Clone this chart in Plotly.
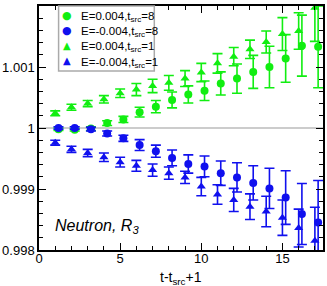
import plotly.graph_objects as go

t = list(range(1, 18))

# E=0.004, t_src=8 (green circles)
gc_val = [0.99998, 0.99997, 0.99999, 1.00008, 1.00014, 1.00026, 1.00035, 1.00046, 1.00055,
          1.00061, 1.00073, 1.00081, 1.00092, 1.00100, 1.00114, 1.00135, 1.00133]
gc_err = [0.00002, 0.00002, 0.00003, 0.00004, 0.00005, 0.00008, 0.00010, 0.00013, 0.00014,
          0.00016, 0.00019, 0.00024, 0.00027, 0.00034, 0.00039, 0.00050, 0.00067]
# E=-0.004, t_src=8 (blue circles)
bc_val = [1.00000, 1.00000, 0.99998, 0.99991, 0.99983, 0.99972, 0.99962, 0.99951, 0.99941,
          0.99937, 0.99926, 0.99919, 0.99910, 0.99901, 0.99886, 0.99859, 0.99845]
bc_err = [0.00002, 0.00002, 0.00003, 0.00004, 0.00005, 0.00009, 0.00010, 0.00013, 0.00015,
          0.00017, 0.00020, 0.00024, 0.00028, 0.00033, 0.00044, 0.00050, 0.00069]
# E=0.004, t_src=1 (green triangles)
gt_val = [1.00024, 1.00034, 1.00040, 1.00047, 1.00057, 1.00063, 1.00069, 1.00074, 1.00081,
          1.00091, 1.00106, 1.00117, 1.00129, 1.00141, 1.00154, 1.00159, 1.00197]
gt_err = [0.00004, 0.00005, 0.00005, 0.00006, 0.00007, 0.00010, 0.00011, 0.00012, 0.00013,
          0.00015, 0.00016, 0.00015, 0.00015, 0.00018, 0.00027, 0.00030, 0.00055]
# E=-0.004, t_src=1 (blue triangles)
bt_val = [0.99976, 0.99965, 0.99959, 0.99952, 0.99944, 0.99938, 0.99931, 0.99926, 0.99919,
          0.99904, 0.99891, 0.99882, 0.99871, 0.99863, 0.99853, 0.99836, 0.99815]
bt_err = [0.00004, 0.00005, 0.00006, 0.00007, 0.00008, 0.00009, 0.00010, 0.00010, 0.00010,
          0.00015, 0.00016, 0.00019, 0.00021, 0.00025, 0.00029, 0.00031, 0.00055]

names = ["E=0.004,t<sub>src</sub>=8", "E=-0.004,t<sub>src</sub>=8",
         "E=0.004,t<sub>src</sub>=1", "E=-0.004,t<sub>src</sub>=1"]
glyphs = ["●", "●", "▲", "▲"]

GREEN = "#11ee11"
BLUE = "#1010ee"
FONT = "Liberation Sans, Arial, sans-serif"

shift = 0.2
tc = [ti + shift for ti in t]

series = [
    (tc, gc_val, gc_err, GREEN, "circle", 8, names[0]),
    (tc, bc_val, bc_err, BLUE, "circle", 8, names[1]),
    (t, gt_val, gt_err, GREEN, "triangle-up", 8, names[2]),
    (t, bt_val, bt_err, BLUE, "triangle-up", 8, names[3]),
]

fig = go.Figure()
for xs, ys, es, col, sym, sz, nm in series:
    fig.add_trace(go.Scatter(
        x=xs, y=ys, mode="markers", name=nm, showlegend=False,
        marker=dict(color=col, symbol=sym, size=sz, line=dict(width=0)),
        error_y=dict(type="data", array=es, visible=True, color=col, thickness=1.6, width=5),
    ))

fig.add_shape(type="line", xref="paper", yref="y", x0=0, x1=1, y0=1, y1=1,
              line=dict(color="#999999", width=1.2), layer="below")

# legend box (drawn by hand to match the compact original layout)
fig.add_shape(type="rect", xref="paper", yref="paper", x0=0.069, x1=0.406, y0=0.734, y1=1.0,
              fillcolor="white", line=dict(color="#aaaaaa", width=1.5), layer="above")
row_y = [0.963, 0.900, 0.838, 0.775]
for i, (nm, gl, s) in enumerate(zip(names, glyphs, series)):
    col = s[3]
    fig.add_annotation(x=0.097, y=row_y[i], xref="paper", yref="paper",
                       xanchor="center", yanchor="middle", showarrow=False,
                       text=gl, font=dict(family="DejaVu Sans", size=11 if gl == "●" else 10,
                                          color=col))
    fig.add_annotation(x=0.142, y=row_y[i] - 0.008, xref="paper", yref="paper",
                       xanchor="left", yanchor="middle", showarrow=False,
                       text=nm, font=dict(family=FONT, size=11.5, color="black"))

fig.add_annotation(x=0.05, y=0.095, xref="paper", yref="paper", xanchor="left", yanchor="middle",
                   text="<i>Neutron, R<sub>3</sub></i>", showarrow=False,
                   font=dict(family=FONT, size=16, color="black"))

fig.add_annotation(x=0.5, y=-0.115, xref="paper", yref="paper", xanchor="center", yanchor="middle",
                   text="t-t<sub>src</sub>+1", showarrow=False,
                   font=dict(family=FONT, size=14, color="black"))

axis_common = dict(showline=True, linecolor="black", linewidth=1.5, mirror="allticks",
                   ticks="inside", ticklen=7, tickwidth=1.2, tickcolor="black",
                   showgrid=False, zeroline=False,
                   tickfont=dict(family=FONT, size=13, color="black"))

fig.update_xaxes(range=[0, 17.5], dtick=5, tick0=0, ticklabelstandoff=-4,
                 minor=dict(dtick=1, ticks="inside", ticklen=4, tickcolor="black", tickwidth=1),
                 **axis_common)
fig.update_yaxes(range=[0.998, 1.002],
                 tickvals=[0.998, 0.999, 1.0, 1.001, 1.002],
                 ticktext=["0.998", "0.999", "1", "1.001", "1.002"],
                 minor=dict(dtick=0.0002, tick0=0.998, ticks="inside", ticklen=4,
                            tickcolor="black", tickwidth=1),
                 **axis_common)

fig.update_layout(
    width=327, height=286,
    margin=dict(l=37, r=2, t=6, b=36),
    plot_bgcolor="white", paper_bgcolor="white",
    showlegend=False,
    font=dict(family=FONT),
)

fig.write_html("out.html", config={"displayModeBar": False},
               post_script="document.body.style.margin='0px';document.body.style.overflow='hidden';")
